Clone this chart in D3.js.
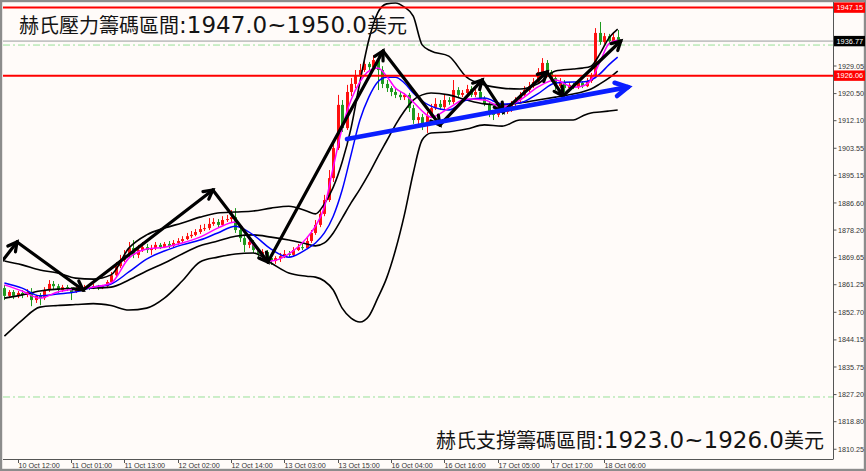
<!DOCTYPE html>
<html><head><meta charset="utf-8">
<script src="https://cdn.jsdelivr.net/npm/d3@7"></script>
<style>body{margin:0;background:#fff;}svg{display:block;}</style>
</head><body>
<svg id="c" width="866" height="471"></svg>
<script>
// ---------- DATA ----------
// hourly candles [open, high, low, close], bar index 0..138
const candles = [
[1860.2,1861.2,1856.5,1857.8],[1857.8,1859.6,1857.1,1859.0],[1859.0,1859.6,1856.8,1857.8],[1857.8,1859.3,1857.1,1858.7],
[1858.7,1859.6,1857.1,1858.1],[1858.1,1859.9,1857.4,1859.0],[1859.0,1860.2,1854.6,1856.5],[1856.5,1858.1,1855.6,1857.8],
[1857.8,1858.7,1854.9,1857.1],[1857.1,1860.5,1856.5,1859.6],[1859.6,1862.7,1859.0,1861.5],[1861.5,1862.4,1859.6,1860.8],
[1860.8,1861.5,1858.7,1859.6],[1859.6,1861.2,1859.0,1860.5],[1860.5,1861.2,1859.3,1859.9],[1859.9,1860.5,1856.5,1859.0],
[1859.0,1860.8,1858.7,1860.2],[1860.2,1860.8,1859.3,1859.9],[1859.9,1861.2,1859.6,1860.5],[1860.5,1860.8,1859.6,1860.2],
[1860.2,1861.5,1859.9,1860.8],[1860.8,1861.2,1859.6,1860.2],[1860.2,1861.2,1859.9,1860.8],[1860.8,1862.7,1860.2,1862.1],
[1862.1,1865.2,1861.5,1864.2],[1864.2,1868.3,1863.6,1867.0],[1867.0,1870.5,1866.4,1868.9],[1868.9,1872.0,1868.3,1870.5],
[1870.5,1874.5,1869.8,1872.6],[1872.6,1875.1,1869.5,1870.5],[1870.5,1873.6,1869.5,1872.0],[1872.0,1874.5,1871.4,1872.9],
[1872.9,1873.9,1871.1,1872.0],[1872.0,1873.6,1870.5,1872.6],[1872.6,1874.5,1872.0,1873.6],[1873.6,1874.2,1872.3,1872.9],
[1872.9,1874.5,1872.6,1873.9],[1873.9,1874.8,1872.6,1873.3],[1873.3,1875.1,1872.9,1874.2],[1874.2,1875.7,1873.6,1874.8],
[1874.8,1876.3,1874.2,1875.4],[1875.4,1877.3,1875.1,1876.3],[1876.3,1877.9,1875.7,1876.7],[1876.7,1878.5,1876.3,1877.6],
[1877.6,1879.8,1877.0,1878.5],[1878.5,1880.1,1877.9,1878.8],[1878.8,1881.9,1878.2,1880.1],[1880.1,1881.9,1879.5,1880.7],
[1880.7,1881.6,1879.1,1879.8],[1879.8,1882.5,1879.5,1881.3],[1881.3,1882.9,1880.7,1881.6],[1881.6,1884.4,1880.7,1882.2],
[1882.2,1885.0,1877.3,1878.2],[1878.2,1879.5,1874.5,1875.7],[1875.7,1876.7,1871.4,1873.6],[1873.6,1875.1,1872.6,1874.5],
[1874.5,1875.1,1871.1,1872.0],[1872.0,1872.6,1869.5,1870.8],[1870.8,1872.3,1870.1,1871.4],[1871.4,1872.0,1868.3,1869.5],
[1869.5,1870.1,1867.4,1868.6],[1868.6,1870.1,1867.7,1869.5],[1869.5,1871.1,1868.3,1870.1],[1870.1,1872.0,1869.5,1870.8],
[1870.8,1871.7,1869.8,1870.5],[1870.5,1872.9,1870.1,1872.0],[1872.0,1873.9,1871.7,1872.9],[1872.9,1874.2,1872.0,1872.6],
[1872.6,1876.0,1872.3,1874.8],[1874.8,1878.2,1874.2,1877.3],[1877.3,1881.3,1876.7,1879.8],[1879.8,1884.4,1879.1,1883.2],
[1883.2,1889.1,1882.5,1887.5],[1887.5,1896.8,1886.9,1894.3],[1894.3,1906.1,1893.1,1903.6],[1903.6,1920.1,1903.0,1917.0],
[1917.0,1918.5,1908.6,1909.8],[1909.8,1923.2,1909.2,1921.0],[1921.0,1925.3,1919.7,1923.5],[1923.5,1927.8,1922.2,1925.9],
[1925.9,1929.7,1925.3,1927.8],[1927.8,1930.9,1927.2,1929.7],[1929.7,1930.3,1927.8,1928.7],[1928.7,1932.4,1928.1,1930.9],
[1930.9,1932.1,1921.6,1927.8],[1927.8,1929.0,1922.2,1923.5],[1923.5,1924.7,1921.0,1922.2],[1922.2,1922.8,1919.7,1921.0],
[1921.0,1921.9,1919.1,1920.1],[1920.1,1921.0,1918.5,1919.4],[1919.4,1920.7,1918.5,1920.1],[1920.1,1920.7,1914.8,1916.0],
[1916.0,1917.0,1911.1,1912.3],[1912.3,1914.5,1910.5,1913.2],[1913.2,1914.2,1909.2,1911.1],[1911.1,1914.8,1908.3,1913.6],
[1913.6,1917.3,1912.9,1916.0],[1916.0,1919.1,1915.4,1917.3],[1917.3,1918.5,1915.4,1916.3],[1916.3,1920.1,1915.7,1918.5],
[1918.5,1919.4,1917.0,1917.9],[1917.9,1924.7,1917.3,1921.6],[1921.6,1922.5,1919.1,1920.1],[1920.1,1921.6,1919.4,1920.7],
[1920.7,1923.2,1920.1,1921.9],[1921.9,1922.8,1919.4,1920.1],[1920.1,1921.9,1919.4,1921.0],[1921.0,1921.6,1918.5,1919.1],
[1919.1,1919.7,1916.6,1917.3],[1917.3,1918.2,1913.2,1914.5],[1914.5,1915.4,1912.3,1913.9],[1913.9,1916.6,1913.2,1916.0],
[1916.0,1917.0,1913.9,1914.8],[1914.8,1916.3,1914.2,1915.4],[1915.4,1918.2,1914.8,1917.3],[1917.3,1919.4,1916.6,1918.5],
[1918.5,1921.0,1917.9,1920.1],[1920.1,1922.8,1919.4,1921.6],[1921.6,1924.1,1921.0,1922.8],[1922.8,1925.3,1922.2,1924.1],
[1924.1,1928.4,1923.5,1927.2],[1927.2,1931.5,1926.3,1930.0],[1930.0,1930.9,1926.3,1927.2],[1927.2,1927.8,1924.1,1925.3],
[1925.3,1926.3,1921.6,1922.8],[1922.8,1925.3,1922.2,1924.1],[1924.1,1924.7,1921.0,1922.2],[1922.2,1924.1,1921.6,1923.2],
[1923.2,1923.8,1921.9,1922.5],[1922.5,1924.4,1921.9,1923.8],[1923.8,1924.4,1922.2,1922.8],[1922.8,1925.3,1922.5,1924.4],
[1924.4,1926.9,1923.8,1925.9],[1925.9,1940.8,1925.3,1939.3],[1939.3,1942.7,1935.6,1936.5],[1936.5,1939.3,1935.9,1938.3],
[1938.3,1939.0,1936.2,1936.8],[1936.8,1939.6,1936.2,1938.0],[1938.0,1940.2,1936.5,1936.77]
];

// indicator lines sampled at these bar indices
const lineIdx = [0,4,8,12,16,20,24,28,32,36,40,44,48,52,56,60,64,68,70,72,74,76,78,80,82,84,86,88,90,92,94,96,100,104,108,112,116,120,124,128,130,132,134,136,138];
const bbUpper = [1868.6,1867.4,1865.8,1864.9,1863.3,1863.0,1864.3,1872.6,1876.7,1878.8,1880.4,1882.2,1883.5,1883.8,1884.1,1885.0,1885.6,1884.1,1883.2,1886.3,1891.5,1899.3,1909.8,1924.1,1937.1,1945.5,1948.3,1948.6,1947.3,1944.5,1935.6,1933.7,1932.1,1925.6,1923.2,1922.2,1921.9,1923.5,1927.5,1928.1,1928.4,1929.0,1932.8,1937.7,1940.5];
const bbMiddle = [1857.1,1858.1,1859.3,1859.9,1860.1,1860.2,1860.5,1862.7,1865.5,1868.0,1870.8,1873.3,1874.8,1876.3,1876.7,1876.0,1875.1,1873.9,1873.3,1874.2,1877.3,1881.9,1886.6,1890.9,1895.6,1900.8,1905.8,1910.8,1915.1,1918.5,1920.1,1920.7,1920.1,1918.5,1917.3,1917.0,1917.6,1918.5,1919.4,1920.4,1921.0,1921.9,1923.5,1925.3,1927.5];
const bbLower = [1845.3,1850.3,1854.3,1854.8,1855.1,1855.4,1854.8,1853.4,1854.0,1857.1,1862.4,1868.3,1869.8,1870.8,1871.1,1868.0,1864.9,1863.9,1863.6,1862.4,1859.6,1854.0,1850.9,1849.7,1851.5,1857.1,1863.3,1872.0,1882.9,1895.9,1906.1,1908.3,1908.6,1909.5,1910.8,1910.4,1912.3,1912.3,1912.3,1912.3,1913.5,1914.5,1914.8,1915.1,1915.4];
const maFast = [1861.2,1859.3,1857.1,1859.0,1859.9,1860.5,1861.8,1869.5,1872.3,1872.9,1874.2,1876.0,1878.8,1880.7,1873.6,1868.6,1870.8,1875.7,1879.4,1885.3,1897.7,1909.8,1918.5,1924.1,1927.5,1928.4,1925.9,1922.2,1920.4,1917.9,1915.1,1913.2,1916.0,1918.8,1918.5,1916.3,1918.5,1922.5,1924.7,1922.5,1922.8,1924.7,1930.3,1935.9,1937.1];
const maSlow = [1861.8,1860.2,1857.8,1858.4,1859.0,1860.5,1861.5,1865.2,1869.2,1871.7,1873.6,1875.1,1877.3,1879.4,1876.7,1872.3,1869.8,1872.3,1874.2,1877.3,1882.5,1890.6,1901.5,1912.3,1919.4,1924.1,1925.6,1925.6,1923.8,1920.7,1918.2,1916.6,1915.4,1918.5,1919.1,1917.3,1917.6,1920.4,1923.8,1924.1,1924.1,1924.7,1926.6,1929.4,1931.8];

// hand-drawn annotation arrows (bar index, price)
const zigIdx   = [-0.3, 2.84, 17.7, 46.9, 59.3, 85.2, 98.0, 107.5, 112.2, 122.1, 125.7, 138.7];
const zigPrice = [1868.9,1874.5,1859.6,1890.6,1868.3,1933.7,1910.75,1924.7,1914.8,1927.2,1919.75,1936.8];
const trendIdx = [77.1, 140.3];
const trendPrice = [1906.4, 1922.5];

const resistLevels = [1947.15, 1926.06];
const bidPrice = 1936.77;
const gridLevels = [1935.55, 1826.45];

const yTicks = [1946.00,1937.45,1929.05,1920.50,1912.10,1903.55,1895.15,1886.60,1878.20,1869.65,1861.25,1852.70,1844.15,1835.75,1827.20,1818.80,1810.25];
const xTickIdx = [3,15,27,39,51,63,75,87,99,111,123,135];
const xTickLabels = ["10 Oct 12:00","11 Oct 01:00","11 Oct 13:00","12 Oct 02:00","12 Oct 14:00","13 Oct 03:00","13 Oct 15:00","16 Oct 04:00","16 Oct 16:00","17 Oct 05:00","17 Oct 17:00","18 Oct 06:00"];

const titleTop = ["赫氏壓力籌碼區間", ":1947.0~1950.0", "美元"];
const titleBottom = ["赫氏支撐籌碼區間", ":1923.0~1926.0", "美元"];

// ---------- DRAW ----------
const W = 866, H = 471;
const P = {l:3, r:833, t:2, b:459};
const svg = d3.select("#c");
const x = d3.scaleLinear().domain([-0.315, 186.45]).range([P.l, P.r]);
const y = d3.scaleLinear().domain([1807.23, 1948.89]).range([P.b, P.t]);

svg.append("rect").attr("width", W).attr("height", H).attr("fill", "#fffbf9");

svg.append("defs").append("clipPath").attr("id", "pc")
  .append("rect").attr("x", P.l).attr("y", P.t).attr("width", P.r - P.l).attr("height", P.b - P.t);

const g = svg.append("g").attr("clip-path", "url(#pc)");

// grid dash-dot levels
g.selectAll(".gl").data(gridLevels).enter().append("line")
  .attr("x1", P.l).attr("x2", P.r).attr("y1", d => y(d)).attr("y2", d => y(d))
  .attr("stroke", "#98e098").attr("stroke-width", 1).attr("stroke-dasharray", "7,3,2,3");

// bid line
g.append("line").attr("x1", P.l).attr("x2", P.r).attr("y1", y(bidPrice)).attr("y2", y(bidPrice))
  .attr("stroke", "#c4c4c4").attr("stroke-width", 1.6);

// candles
const up = "#ff1010", dn = "#1e9a1e";
const cg = g.append("g");
candles.forEach((c, i) => {
  const [o, h, l, cl] = c;
  const col = cl >= o ? up : dn;
  const cx = Math.round(x(i)) + 0.5;
  cg.append("line").attr("x1", cx).attr("x2", cx).attr("y1", y(h)).attr("y2", y(l))
    .attr("stroke", col).attr("stroke-width", 1);
  const top = y(Math.max(o, cl)), bot = y(Math.min(o, cl));
  cg.append("rect").attr("x", cx - 1.5).attr("width", 3)
    .attr("y", top).attr("height", Math.max(1, bot - top)).attr("fill", col);
});

// indicator lines
const mk = arr => d3.line().x((d, k) => x(lineIdx[k])).y(d => y(d)).curve(d3.curveMonotoneX)(arr);
[[bbUpper, "#000", 1.6], [bbLower, "#000", 1.6], [bbMiddle, "#000", 1.6],
 [maSlow, "#0000ff", 1.5], [maFast, "#ff00ff", 1.5]].forEach(([arr, col, w]) => {
  g.append("path").attr("d", mk(arr)).attr("fill", "none").attr("stroke", col).attr("stroke-width", w);
});

// resistance / support red lines
g.selectAll(".rl").data(resistLevels).enter().append("line")
  .attr("x1", P.l).attr("x2", W).attr("y1", d => y(d)).attr("y2", d => y(d))
  .attr("stroke", "#ff0000").attr("stroke-width", 2);

// arrows
function arrow(p1, p2, col, w, L) {
  const ang = Math.atan2(p2[1] - p1[1], p2[0] - p1[0]);
  const a1 = ang + Math.PI - 0.5, a2 = ang + Math.PI + 0.5;
  g.append("path")
    .attr("d", `M${p1[0]},${p1[1]}L${p2[0]},${p2[1]}`)
    .attr("stroke", col).attr("stroke-width", w).attr("fill", "none").attr("stroke-linecap", "round");
  g.append("path")
    .attr("d", `M${p2[0] + L * Math.cos(a1)},${p2[1] + L * Math.sin(a1)}L${p2[0]},${p2[1]}L${p2[0] + L * Math.cos(a2)},${p2[1] + L * Math.sin(a2)}`)
    .attr("stroke", col).attr("stroke-width", w).attr("fill", "none")
    .attr("stroke-linecap", "round").attr("stroke-linejoin", "miter");
}
for (let k = 1; k < zigIdx.length; k++) {
  arrow([x(zigIdx[k - 1]), y(zigPrice[k - 1])], [x(zigIdx[k]), y(zigPrice[k])], "#000", 3.2, 10);
}
arrow([x(trendIdx[0]), y(trendPrice[0])], [x(trendIdx[1]), y(trendPrice[1])], "#0a1eff", 4.6, 14);

// frame
svg.append("line").attr("x1", P.r + 0.5).attr("x2", P.r + 0.5).attr("y1", P.t).attr("y2", P.b)
  .attr("stroke", "#555").attr("stroke-width", 1);
svg.append("line").attr("x1", P.l).attr("x2", P.r + 0.5).attr("y1", P.b + 0.5).attr("y2", P.b + 0.5)
  .attr("stroke", "#555").attr("stroke-width", 1);
svg.append("rect").attr("x", 1).attr("y", 1).attr("width", W - 2).attr("height", H - 2)
  .attr("fill", "none").attr("stroke", "#8c8c8c").attr("stroke-width", 2.4);

// price tags (covering ticks behind them)
const tags = [[resistLevels[0], "#ff0000"], [resistLevels[1], "#ff0000"], [bidPrice, "#000"]];

// y axis
const axF = "'Liberation Sans', Arial, sans-serif";
const ya = svg.append("g");
yTicks.forEach(v => {
  ya.append("line").attr("x1", P.r).attr("x2", P.r + 3.5).attr("y1", y(v)).attr("y2", y(v))
    .attr("stroke", "#555").attr("stroke-width", 1);
  const hidden = tags.some(t => Math.abs(y(t[0]) - y(v)) < 9);
  if (!hidden) {
    ya.append("text").attr("x", 838).attr("y", y(v) + 2.6).text(v.toFixed(2))
      .attr("font-family", axF).attr("font-size", 7.2).attr("fill", "#333");
  }
});

// x axis
xTickIdx.forEach((t, k) => {
  const tx = Math.round(x(t)) + 0.5;
  svg.append("line").attr("x1", tx).attr("x2", tx).attr("y1", P.b).attr("y2", P.b + 4)
    .attr("stroke", "#555").attr("stroke-width", 1);
  svg.append("text").attr("x", tx).attr("y", 468).text(xTickLabels[k])
    .attr("font-family", axF).attr("font-size", 7.2).attr("fill", "#333");
});

// price label boxes
tags.forEach(([v, bg]) => {
  svg.append("rect").attr("x", 834).attr("y", y(v) - 5.2).attr("width", 31).attr("height", 10.4).attr("fill", bg);
  svg.append("text").attr("x", 836.5).attr("y", y(v) + 2.7).text(v.toFixed(2))
    .attr("font-family", axF).attr("font-size", 7.4).attr("fill", "#fff");
});

// titles
function title(parts, tx, ty) {
  const t = svg.append("text").attr("x", tx).attr("y", ty).attr("fill", "#141414");
  t.append("tspan").text(parts[0]).attr("font-family", "'Noto Sans CJK TC', sans-serif").attr("font-size", 20);
  t.append("tspan").text(parts[1]).attr("font-family", "'DejaVu Sans', sans-serif").attr("font-size", 23);
  t.append("tspan").text(parts[2]).attr("font-family", "'Noto Sans CJK TC', sans-serif").attr("font-size", 20);
}
title(titleTop, 19, 33);
title(titleBottom, 436, 448);
</script>
</body></html>
